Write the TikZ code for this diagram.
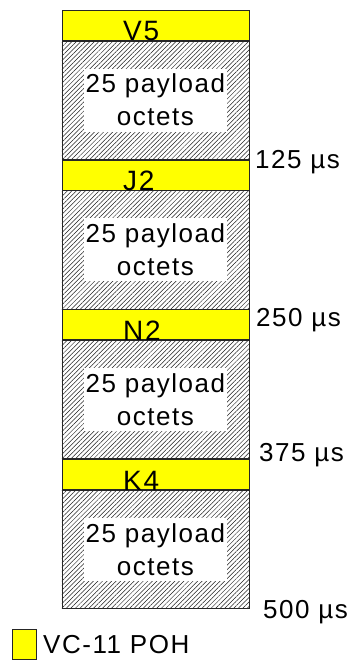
\documentclass[tikz,border=0pt]{standalone}
\usepackage{fontspec}
\setmainfont[LetterSpace=6]{Liberation Sans}
\usepackage{xcolor}
\definecolor{pohYellow}{HTML}{FFFF00}
\definecolor{hatchGray}{HTML}{1E1E1E}
\usepackage{tikz}
\usetikzlibrary{
  patterns.meta,
  positioning
}
\tikzset{
  pohbox/.style={
    rectangle,draw=black!85,fill=pohYellow,line width=0.8pt,
    minimum width=187pt,minimum height=30pt,inner sep=0pt
  },
  paybox/.style={
    rectangle,draw=black!85,line width=0.8pt,
    pattern={Lines[angle=45,distance=3.2pt,line width=0.5pt]},
    pattern color=hatchGray,
    minimum width=187pt,minimum height=118.25pt,inner sep=0pt
  },
  octbox/.style={
    rectangle,fill=white,minimum width=143pt,minimum height=63pt,
    inner sep=0pt,align=center,font=\fontsize{26}{33}\selectfont
  },
  pohlbl/.style={
    anchor=base west,inner sep=0pt,font=\fontsize{28}{30}\selectfont
  },
  timelbl/.style={
    anchor=west,inner sep=0pt,font=\fontsize{26}{30}\selectfont
  },
}
\begin{document}
\begin{tikzpicture}[x=1pt,y=-1pt]
\useasboundingbox (0,0) rectangle (348,661);

% column of four rows
\node[pohbox,anchor=north west] (poh1) at (61.5,10) {};
\node[paybox,below=0pt of poh1] (pay1) {};
\node[pohbox,below=0pt of pay1] (poh2) {};
\node[paybox,below=0pt of poh2] (pay2) {};
\node[pohbox,below=0pt of pay2] (poh3) {};
\node[paybox,below=0pt of poh3] (pay3) {};
\node[pohbox,below=0pt of pay3] (poh4) {};
\node[paybox,below=0pt of poh4] (pay4) {};

% payload texts
\node[octbox] (oct1) at (pay1) {25 payload\\octets};
\node[octbox] (oct2) at (pay2) {25 payload\\octets};
\node[octbox] (oct3) at (pay3) {25 payload\\octets};
\node[octbox] (oct4) at (pay4) {25 payload\\octets};

% POH bytes
\node[pohlbl] (v5) at ([xshift=61.5pt]poh1.south west) {V5};
\node[pohlbl] (j2) at ([xshift=61.5pt]poh2.south west) {J2};
\node[pohlbl] (n2) at ([xshift=61.5pt]poh3.south west) {N2};
\node[pohlbl] (k4) at ([xshift=61.5pt]poh4.south west) {K4};

% times
\node[timelbl] (t125) at (255,162) {125 µs};
\node[timelbl] (t250) at (256,320) {250 µs};
\node[timelbl] (t375) at (259,455) {375 µs};
\node[timelbl] (t500) at (263,612) {500 µs};

% legend
\node[pohbox,minimum width=24pt,anchor=north west] (key) at (12,629) {};
\node[timelbl] (keylbl) at (43,645) {VC-11 POH};

\end{tikzpicture}
\end{document}
